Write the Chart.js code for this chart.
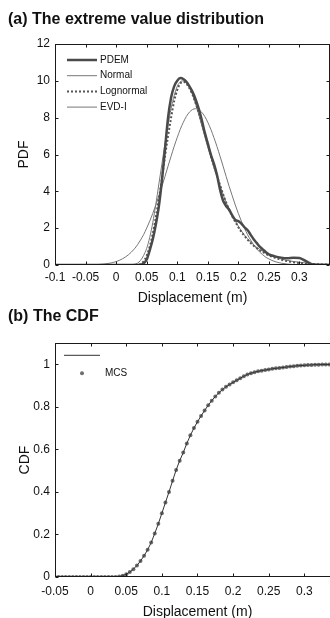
<!DOCTYPE html>
<html>
<head>
<meta charset="utf-8">
<script src="https://cdn.jsdelivr.net/npm/chart.js@4.4.0/dist/chart.umd.min.js"></script>
<style>
  html, body { margin: 0; padding: 0; background: #fff; width: 330px; height: 618px; overflow: hidden; }
  #boxA { position: absolute; left: 0; top: 0; }
  #boxB { position: absolute; left: 0; top: 307px; }
</style>
</head>
<body>
<div id="boxA"><canvas id="pdfChart" width="330" height="307"></canvas></div>
<div id="boxB"><canvas id="cdfChart" width="344" height="314"></canvas></div>
<script>
// (a) PDF curves, all sampled on the same displacement grid
const pdfX = [-0.1, -0.08, -0.06, -0.05, -0.04, -0.03, -0.02, -0.01, 0, 0.01, 0.02, 0.03,
  0.035, 0.04, 0.045, 0.05, 0.055, 0.06, 0.065, 0.07, 0.075, 0.08, 0.085, 0.09, 0.095, 0.1,
  0.105, 0.11, 0.115, 0.12, 0.125, 0.13, 0.135, 0.14, 0.145, 0.15, 0.155, 0.16, 0.165, 0.17,
  0.175, 0.18, 0.185, 0.19, 0.195, 0.2, 0.205, 0.21, 0.215, 0.22, 0.225, 0.23, 0.235, 0.24,
  0.245, 0.25, 0.26, 0.27, 0.28, 0.29, 0.3, 0.31, 0.32, 0.33, 0.34, 0.35];

const pdemPdf = [0, 0, 0, 0, 0, 0, 0, 0, 0, 0, 0, 0,
  0, 0.02, 0.08, 0.3, 0.8, 1.4, 2.2, 3.2, 4.6, 6.3, 8.0, 9.1, 9.7, 10.0,
  10.15, 10.1, 9.95, 9.7, 9.4, 9.0, 8.5, 7.9, 7.2, 6.6, 6.0, 5.5, 4.9, 4.1,
  3.5, 3.2, 3.0, 2.7, 2.45, 2.38, 2.25, 2.05, 1.9, 1.65, 1.4, 1.2, 1.0, 0.85,
  0.7, 0.58, 0.47, 0.4, 0.37, 0.4, 0.38, 0.22, 0.05, 0, 0, 0];

const normalPdf = [0, 0, 0.002, 0.006, 0.012, 0.026, 0.052, 0.1, 0.185, 0.33, 0.55, 0.88,
  1.1, 1.36, 1.65, 2.0, 2.38, 2.8, 3.26, 3.76, 4.27, 4.81, 5.37, 5.91, 6.44, 6.92,
  7.37, 7.75, 8.07, 8.3, 8.44, 8.49, 8.44, 8.3, 8.07, 7.75, 7.37, 6.92, 6.44, 5.91,
  5.37, 4.81, 4.27, 3.76, 3.26, 2.8, 2.38, 2.0, 1.65, 1.36, 1.1, 0.88, 0.7, 0.55,
  0.42, 0.33, 0.185, 0.1, 0.052, 0.026, 0.012, 0.006, 0.002, 0.001, 0, 0];

const lognormalPdf = [0, 0, 0, 0, 0, 0, 0, 0, 0, 0, 0, 0,
  0, 0.05, 0.2, 0.5, 1.0, 1.7, 2.6, 3.6, 4.7, 5.9, 7.0, 8.0, 8.9, 9.5,
  9.85, 9.95, 9.85, 9.6, 9.25, 8.8, 8.3, 7.75, 7.15, 6.55, 5.95, 5.4, 4.85, 4.35,
  3.85, 3.4, 3.0, 2.65, 2.35, 2.05, 1.8, 1.58, 1.38, 1.2, 1.05, 0.92, 0.8, 0.7,
  0.6, 0.52, 0.39, 0.29, 0.21, 0.15, 0.11, 0.08, 0.06, 0.04, 0.03, 0.02];

const evdPdf = [0, 0, 0, 0, 0, 0, 0, 0, 0, 0, 0.005, 0.04,
  0.1, 0.25, 0.52, 0.9, 1.5, 2.3, 3.3, 4.4, 5.5, 6.6, 7.6, 8.5, 9.2, 9.7,
  9.95, 10.0, 9.9, 9.65, 9.25, 8.75, 8.2, 7.6, 7.0, 6.4, 5.85, 5.3, 4.8, 4.3,
  3.85, 3.4, 3.05, 2.7, 2.4, 2.1, 1.85, 1.62, 1.43, 1.25, 1.1, 0.96, 0.84, 0.74,
  0.65, 0.57, 0.44, 0.33, 0.25, 0.19, 0.15, 0.11, 0.08, 0.06, 0.05, 0.04];

// (b) CDF, PDEM line and MCS points
const cdfX = [-0.05, -0.045, -0.04, -0.035, -0.03, -0.025, -0.02, -0.015, -0.01, -0.005,
  0, 0.005, 0.01, 0.015, 0.02, 0.025, 0.03, 0.035, 0.04, 0.045, 0.05, 0.055, 0.06, 0.065,
  0.07, 0.075, 0.08, 0.085, 0.09, 0.095, 0.1, 0.105, 0.11, 0.115, 0.12, 0.125, 0.13, 0.135,
  0.14, 0.145, 0.15, 0.155, 0.16, 0.165, 0.17, 0.175, 0.18, 0.185, 0.19, 0.195, 0.2, 0.205,
  0.21, 0.215, 0.22, 0.225, 0.23, 0.235, 0.24, 0.245, 0.25, 0.255, 0.26, 0.265, 0.27, 0.275,
  0.28, 0.285, 0.29, 0.295, 0.3, 0.305, 0.31, 0.315, 0.32, 0.325, 0.33, 0.335, 0.34, 0.345, 0.35];

const cdfValues = [0, 0, 0, 0, 0, 0, 0, 0, 0, 0,
  0, 0, 0, 0, 0, 0, 0, 0, 0.002, 0.006, 0.013, 0.023, 0.037, 0.054,
  0.075, 0.1, 0.128, 0.162, 0.205, 0.25, 0.3, 0.35, 0.4, 0.452, 0.503, 0.547, 0.585, 0.628,
  0.666, 0.7, 0.73, 0.757, 0.783, 0.807, 0.829, 0.849, 0.866, 0.881, 0.894, 0.905, 0.915, 0.925,
  0.934, 0.944, 0.952, 0.958, 0.963, 0.967, 0.97, 0.973, 0.976, 0.979, 0.981, 0.983, 0.985, 0.987,
  0.989, 0.991, 0.993, 0.994, 0.995, 0.996, 0.997, 0.998, 0.998, 0.999, 0.999, 0.999, 1, 1, 1];

const fontFamily = '"Liberation Sans", Arial, Helvetica, sans-serif';
Chart.defaults.font.family = fontFamily;
Chart.defaults.color = "#111";

const toPoints = (xs, ys) => xs.map((x, i) => ({ x: x, y: ys[i] }));
const fmtTick = (v) => parseFloat(Number(v).toFixed(2)).toString();

// box round the plot with short inward ticks on every side (matlab look)
const framePlugin = {
  id: "frame",
  afterDatasetsDraw(chart) {
    const { ctx, chartArea: a, scales } = chart;
    const l = Math.round(a.left) + 0.5;
    const r = Math.round(a.right) - 0.5;
    const t = Math.round(a.top) + 0.5;
    const b = Math.round(a.bottom) - 0.5;
    ctx.save();
    ctx.strokeStyle = "#1a1a1a";
    ctx.lineWidth = 1;
    ctx.strokeRect(l, t, r - l, b - t);
    ctx.beginPath();
    scales.x.ticks.forEach((tk) => {
      const px = Math.round(scales.x.getPixelForValue(tk.value)) + 0.5;
      ctx.moveTo(px, b); ctx.lineTo(px, b - 3);
      ctx.moveTo(px, t); ctx.lineTo(px, t + 3);
    });
    scales.y.ticks.forEach((tk) => {
      const py = Math.round(scales.y.getPixelForValue(tk.value)) + 0.5;
      ctx.moveTo(l, py); ctx.lineTo(l + 3, py);
      ctx.moveTo(r, py); ctx.lineTo(r - 3, py);
    });
    ctx.stroke();
    ctx.restore();
  },
};

// legend drawn inside the plot, top left
const keyPlugin = {
  id: "lineKey",
  afterDraw(chart, args, opts) {
    const { ctx, chartArea: a } = chart;
    ctx.save();
    ctx.font = "10px " + fontFamily;
    ctx.textBaseline = "middle";
    ctx.fillStyle = "#111";
    chart.data.datasets.forEach((ds, i) => {
      const y = a.top + opts.top + i * opts.gap;
      const x0 = a.left + opts.x0;
      const x1 = a.left + opts.x1;
      if (ds.showLine === false) {
        ctx.fillStyle = ds.pointBackgroundColor;
        ctx.beginPath();
        ctx.arc((x0 + x1) / 2, y, ds.pointRadius, 0, Math.PI * 2);
        ctx.fill();
        ctx.fillStyle = "#111";
      } else {
        ctx.strokeStyle = ds.borderColor;
        ctx.lineWidth = ds.borderWidth;
        ctx.setLineDash(ds.borderDash || []);
        ctx.beginPath();
        ctx.moveTo(x0, y);
        ctx.lineTo(x1, y);
        ctx.stroke();
        ctx.setLineDash([]);
      }
      if (ds.label) ctx.fillText(ds.label, a.left + opts.tx, y);
    });
    ctx.restore();
  },
};

const lineDs = (label, xs, ys, color, width, dash, order) => ({
  label: label,
  data: toPoints(xs, ys),
  borderColor: color,
  borderWidth: width,
  borderDash: dash,
  pointRadius: 0,
  showLine: true,
  cubicInterpolationMode: "monotone",
  order: order,
});

const noGrid = { display: false, drawTicks: false };

new Chart(document.getElementById("pdfChart"), {
  type: "scatter",
  data: {
    datasets: [
      lineDs("PDEM", pdfX, pdemPdf, "#4a4a4a", 2.5, [], 0),
      lineDs("Normal", pdfX, normalPdf, "#777", 1, [], 3),
      lineDs("Lognormal", pdfX, lognormalPdf, "#555", 2, [2, 2], 1),
      lineDs("EVD-I", pdfX, evdPdf, "#777", 1, [], 2),
    ],
  },
  options: {
    responsive: false,
    animation: false,
    layout: { padding: { left: 8, right: 0, top: 0, bottom: 0 } },
    scales: {
      x: {
        type: "linear",
        min: -0.1,
        max: 0.35,
        grid: noGrid,
        border: { display: false },
        ticks: { stepSize: 0.05, autoSkip: false, maxRotation: 0, padding: 5, font: { size: 12 }, callback: fmtTick },
        afterBuildTicks: (s) => { s.ticks = s.ticks.filter((t) => t.value < 0.349); },
        afterFit: (s) => { s.height = 42; },
        title: { display: true, text: "Displacement (m)", font: { size: 14 }, padding: { top: 0, bottom: 0 } },
      },
      y: {
        min: 0,
        max: 12,
        grid: noGrid,
        border: { display: false },
        ticks: { stepSize: 2, padding: 5, font: { size: 12 }, callback: fmtTick },
        afterFit: (s) => { s.width = 47; },
        title: { display: true, text: "PDF", font: { size: 14 }, padding: { top: 7.6, bottom: 0 } },
      },
    },
    plugins: {
      legend: { display: false },
      tooltip: { enabled: false },
      title: {
        display: true,
        text: "(a) The extreme value distribution",
        align: "start",
        color: "#111",
        font: { size: 16, weight: "bold" },
        padding: { top: 9.5, bottom: 15.3 },
      },
      lineKey: { top: 16, gap: 15.7, x0: 12, x1: 42, tx: 45 },
    },
  },
  plugins: [framePlugin, keyPlugin],
});

new Chart(document.getElementById("cdfChart"), {
  type: "scatter",
  data: {
    datasets: [
      {
        label: "",
        data: toPoints(cdfX, cdfValues),
        borderColor: "#333",
        borderWidth: 1,
        pointRadius: 0,
        showLine: true,
        order: 0,
      },
      {
        label: "MCS",
        data: toPoints(cdfX, cdfValues),
        pointRadius: 2,
        pointBackgroundColor: "#6e6e6e",
        pointBorderWidth: 0,
        showLine: false,
        order: 1,
      },
    ],
  },
  options: {
    responsive: false,
    animation: false,
    layout: { padding: { left: 8, right: 1, top: 0, bottom: 0 } },
    scales: {
      x: {
        type: "linear",
        min: -0.05,
        max: 0.35,
        grid: noGrid,
        border: { display: false },
        ticks: { stepSize: 0.05, autoSkip: false, maxRotation: 0, padding: 7, font: { size: 12 }, callback: fmtTick },
        afterBuildTicks: (s) => { s.ticks = s.ticks.filter((t) => t.value < 0.349); },
        afterFit: (s) => { s.height = 44; },
        title: { display: true, text: "Displacement (m)", font: { size: 14 }, padding: { top: 0, bottom: 0 } },
      },
      y: {
        min: 0,
        max: 1.1,
        grid: noGrid,
        border: { display: false },
        ticks: { stepSize: 0.2, padding: 5, font: { size: 12 }, callback: fmtTick },
        afterBuildTicks: (s) => { s.ticks = s.ticks.filter((t) => t.value < 1.05); },
        afterFit: (s) => { s.width = 47; },
        title: { display: true, text: "CDF", font: { size: 14 }, padding: { top: 9, bottom: 0 } },
      },
    },
    plugins: {
      legend: { display: false },
      tooltip: { enabled: false },
      title: {
        display: true,
        text: "(b) The CDF",
        align: "start",
        color: "#111",
        font: { size: 16, weight: "bold" },
        padding: { top: 0, bottom: 16.8 },
      },
      lineKey: { top: 12.3, gap: 18, x0: 9, x1: 45, tx: 50 },
    },
  },
  plugins: [framePlugin, keyPlugin],
});
</script>
</body>
</html>
